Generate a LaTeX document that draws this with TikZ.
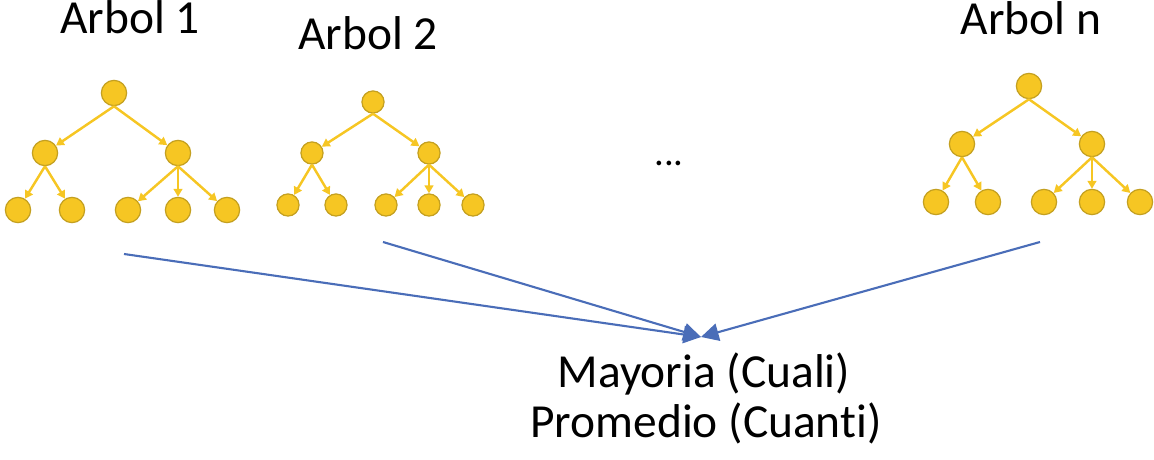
\documentclass[tikz,border=0pt]{standalone}
\usepackage{fontspec}
\setmainfont[Ligatures=NoCommon]{Carlito}
\usepackage{tikz}
\usetikzlibrary{arrows.meta}

\definecolor{oro}{HTML}{F6C623}
\definecolor{borde}{HTML}{C4A020}
\definecolor{azul}{HTML}{4A6DB8}

\begin{document}
\begin{tikzpicture}[x=0.2mm, y=-0.2mm,
    hoja/.style={circle, fill=oro, draw=borde, line width=0.7pt, inner sep=0pt, minimum size=14.4pt},
    hojita/.style={hoja, minimum size=12.6pt},
    rama/.style={draw=oro, line width=1.4pt, -{Triangle[length=4.5pt, width=5pt]}},
    flecha/.style={draw=azul, line width=1.2pt, -{Triangle[length=10pt, width=10pt]}},
    texto/.style={font=\fontsize{27}{32}\selectfont, anchor=base, inner sep=0pt}]

    \useasboundingbox (0,0) rectangle (1154,460);

    % Arbol 1
    \node[texto] (tit1) at (130,34) {Arbol 1};
    \node[hoja] (a1) at (114,93) {};
    \node[hoja] (a2) at (45,153) {};
    \node[hoja] (a3) at (178,153) {};
    \node[hoja] (a4) at (18,210) {};
    \node[hoja] (a5) at (72,210) {};
    \node[hoja] (a6) at (128,210) {};
    \node[hoja] (a7) at (178,210) {};
    \node[hoja] (a8) at (227,210) {};

    % Arbol 2
    \node[texto] (tit2) at (368,50) {Arbol 2};
    \node[hojita] (b1) at (373,102) {};
    \node[hojita] (b2) at (312,153) {};
    \node[hojita] (b3) at (429,153) {};
    \node[hojita] (b4) at (288,205) {};
    \node[hojita] (b5) at (336,205) {};
    \node[hojita] (b6) at (386,205) {};
    \node[hojita] (b7) at (429,205) {};
    \node[hojita] (b8) at (473,205) {};

    % Arbol n
    \node[texto] (titn) at (1031,35) {Arbol n};
    \node[hoja] (c1) at (1029,86) {};
    \node[hoja] (c2) at (962,144) {};
    \node[hoja] (c3) at (1092,144) {};
    \node[hoja] (c4) at (936,202) {};
    \node[hoja] (c5) at (988,202) {};
    \node[hoja] (c6) at (1044,202) {};
    \node[hoja] (c7) at (1092,202) {};
    \node[hoja] (c8) at (1140,202) {};

    % Ramas de los arboles
    \foreach \t in {a,b,c}
        \foreach \p/\h in {1/2, 1/3, 2/4, 2/5, 3/6, 3/7, 3/8}
            \draw[rama] (\t\p.south) -- (\t\h);

    % Puntos suspensivos
    \node[texto, font=\fontsize{22}{26}\selectfont] (puntos) at (669,166) {...};

    % Resultado
    \node[texto] (mayoria) at (704,388) {Mayoria (Cuali)};
    \node[texto] (promedio) at (706,438) {Promedio (Cuanti)};

    % Flechas hacia el resultado
    \coordinate (meta) at (701,337);
    \coordinate (s1) at (124,254);
    \coordinate (s2) at (383,242);
    \coordinate (sn) at (1040,242);
    \draw[flecha] (s1) -- (meta);
    \draw[flecha] (s2) -- (meta);
    \draw[flecha] (sn) -- (meta);
\end{tikzpicture}
\end{document}
